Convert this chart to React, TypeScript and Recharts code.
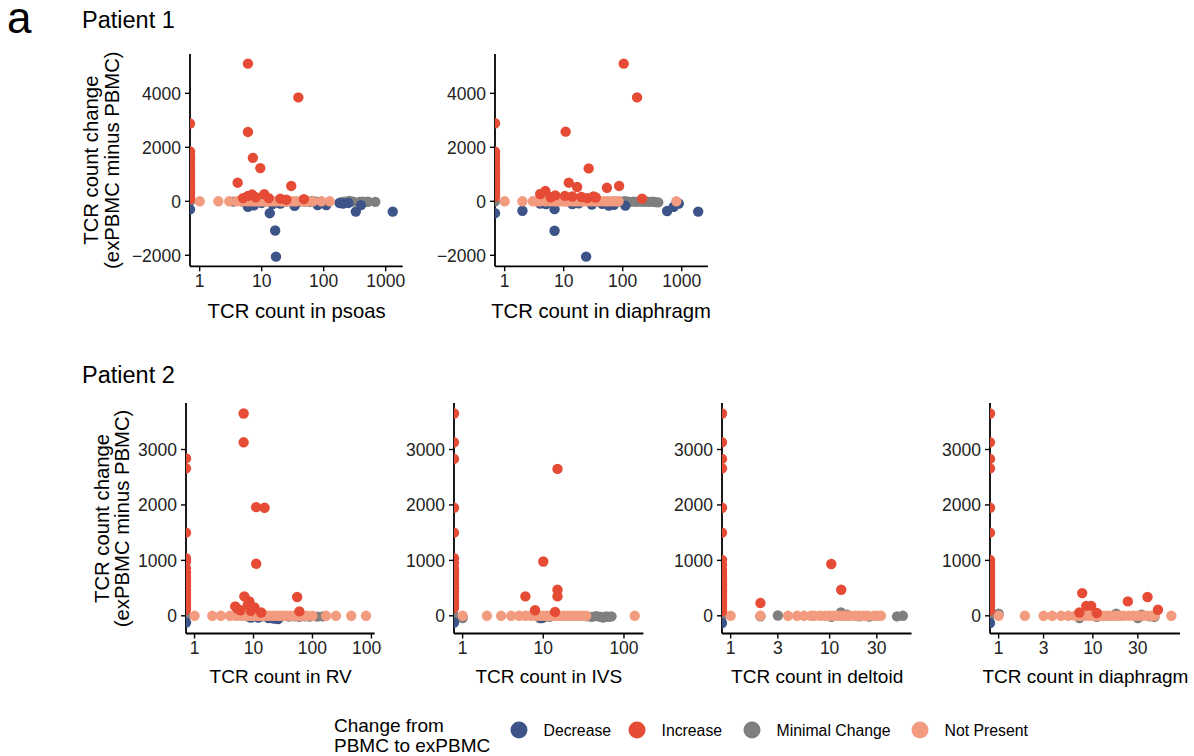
import React from "react";
import { ScatterChart, Scatter, XAxis, YAxis } from "recharts";

const FONT = '"Liberation Sans", Arial, Helvetica, sans-serif';

// ---- categories & colours ----
const categories = ["Decrease", "Increase", "Minimal Change", "Not Present"];
const categoryColors = ["#3C5488", "#E64B35", "#7F7F7F", "#F39B7F"];
// draw order (index into categories)
const drawOrder = [2, 0, 3, 1];

// ---- axis tick values ----
const top_xTicks = [1, 10, 100, 1000];
const top_yTicks = [-2000, 0, 2000, 4000];
const rv_xTicks = [1, 10, 100, 1000];
const ivs_xTicks = [1, 10, 100];
const bottomSmall_xTicks = [1, 3, 10, 30];
const bottom_yTicks = [0, 1000, 2000, 3000];

// x = 0 means "TCR count 0" (drawn at left panel edge like ggplot's -Inf)
// ---- Patient 1: psoas ----
const p1Decrease: number[][] = [[0, -300], [17, -2050], [16.5, -1080], [13.5, -440], [1300, -380], [330, -380], [400, -140], [205, -80], [180, -60], [6, -200], [7.5, -150], [34, -170], [80, -140], [110, -140], [15, -100], [20, -80], [10, -60], [250, -60]];
const p1Increase: number[][] = [[0, 2880], [0, 1850], [0, 1700], [0, 1620], [0, 1550], [0, 1420], [0, 1300], [0, 1180], [0, 1050], [0, 950], [0, 850], [0, 780], [0, 700], [0, 620], [0, 550], [0, 480], [0, 400], [0, 320], [0, 250], [0, 150], [0, 80],
  [6, 5100], [39, 3850], [6, 2570], [7.2, 1610], [9.5, 1230], [4.1, 690], [30, 570], [6, 200], [7, 250], [11, 260], [20, 100], [48, 80], [8, 150], [13, 120], [25, 60], [5, 120]];
const p1Minimal: number[][] = [[0, 0], [3.5, -10], [5, -15], [12, 10], [25, -10], [40, -15], [50, -10], [60, -20], [65, 10], [75, -10], [90, -15], [200, -20], [220, -10], [240, -20], [260, 10], [300, -10], [380, -20], [420, -10], [480, -20], [520, -15], [680, -20]];
const p1NotPresent: number[][] = [1, 2, 3, 4, 5, 6, 7, 8, 9, 10, 11, 12, 13, 15, 17, 20, 22, 25, 28, 32, 36, 45, 55, 67, 92, 125].map((x) => [x, 0]);

// ---- Patient 1: diaphragm ----
const p2Decrease: number[][] = [[0, -440], [24, -2050], [7, -1090], [2, -350], [7, -290], [1900, -380], [565, -360], [730, -200], [890, -80], [111, -160], [58, -160], [71, -130], [4, -80], [5, -100], [14, -100], [30, -120], [45, -90], [18, -70]];
const p2Increase: number[][] = [[0, 2890], [0, 1840], [0, 1750], [0, 1650], [0, 1560], [0, 1470], [0, 1380], [0, 1280], [0, 1190], [0, 1100], [0, 1000], [0, 910], [0, 820], [0, 730], [0, 640], [0, 540], [0, 450], [0, 360], [0, 260], [0, 170],
  [104, 5100], [175, 3850], [10.8, 2580], [26.5, 1220], [12.2, 690], [16.9, 530], [54, 500], [87, 570], [4.9, 380], [4, 270], [7.2, 220], [10.5, 200], [20, 160], [32, 180], [35, 140], [213, 100], [6, 150], [14, 180], [25, 120]];
const p2Minimal: number[][] = [[0, 0], [40, -15], [60, -10], [90, -10], [100, -15], [110, 0], [120, -10], [130, -20], [150, -10], [170, -20], [200, -10], [230, -20], [260, -10], [290, -20], [320, -10], [360, -30], [400, -40]];
const p2NotPresent: number[][] = [1, 2, 3, 3.5, 4, 5, 6, 7, 8, 9, 10, 11, 12, 14, 16, 18, 20, 23, 26, 30, 35, 40, 48, 55, 65, 75, 85, 810].map((x) => [x, 0]);

// ---- Patient 2: RV ----
const p3Decrease: number[][] = [[0, -120], [26, -60], [22, -50], [12, -30], [18, -40], [9, -30]];
const p3Increase: number[][] = [[0, 2840], [0, 2660], [0, 1500], [0, 1040], [0, 980], [0, 860], [0, 780], [0, 710], [0, 650], [0, 590], [0, 530], [0, 470], [0, 410], [0, 350], [0, 290], [0, 230], [0, 170], [0, 110],
  [6.8, 3650], [6.8, 3130], [11.1, 1960], [15.4, 1950], [11.1, 940], [55, 340], [7, 350], [8.5, 260], [4.9, 170], [5.3, 130], [10.4, 150], [60, 80], [13.5, 60], [9, 90], [6, 100], [8, 200]];
const p3Minimal: number[][] = [[0, 0], [8, -10], [9, -20], [10, -5], [12, -15], [14, -10], [17, -20], [20, -10], [25, -20], [30, -10], [40, -15], [50, -10], [60, -20], [75, -10], [90, -15], [121, -15], [150, -10]];
const p3NotPresent: number[][] = [1, 2, 2.8, 4, 5, 6, 7, 8, 9, 10, 11, 12, 13, 15, 17, 19, 22, 25, 28, 32, 36, 42, 50, 58, 68, 80, 100, 170, 250, 455, 810].map((x) => [x, 0]);

// ---- Patient 2: IVS ----
const p4Decrease: number[][] = [[0, -120], [9.5, -40]];
const p4Increase: number[][] = [[0, 3650], [0, 3130], [0, 2830], [0, 1950], [0, 1500], [0, 1040], [0, 950], [0, 860], [0, 800], [0, 740], [0, 680], [0, 620], [0, 560], [0, 500], [0, 440], [0, 380], [0, 320], [0, 260], [0, 200], [0, 140],
  [15, 2650], [10, 980], [15, 470], [15, 350], [6, 350], [7.9, 100], [14, 70]];
const p4Minimal: number[][] = [[0, 0], [1, -40], [9, -40], [10, -30], [12, -20], [35, -10], [40, -20], [45, -5], [50, -15], [55, -30], [60, -10], [65, -20], [70, -10]];
const p4NotPresent: number[][] = [1, 2, 3, 4, 5, 6, 7, 8, 9, 10, 11, 12, 13, 14, 15, 16, 18, 20, 22, 24, 27, 30, 34, 136].map((x) => [x, 0]);

// ---- Patient 2: deltoid ----
const p5Decrease: number[][] = [[0, -130]];
const p5Increase: number[][] = [[0, 3650], [0, 3130], [0, 2830], [0, 2660], [0, 1950], [0, 1500], [0, 1010], [0, 920], [0, 830], [0, 770], [0, 710], [0, 660], [0, 620], [0, 570], [0, 530], [0, 480], [0, 440], [0, 390], [0, 350], [0, 300], [0, 260], [0, 210], [0, 170], [0, 120], [0, 80],
  [10.4, 935], [13.1, 470], [2, 230]];
const p5Minimal: number[][] = [[0, 0], [2, -10], [3, 5], [10.4, -20], [13, 60], [15, 20], [20, -10], [25, -15], [48, -10], [55, 0]];
const p5NotPresent: number[][] = [1, 2, 3.8, 4.7, 5.5, 6.5, 7, 8, 9, 10, 11, 12, 13, 14, 15, 16, 18, 20, 22, 24, 28, 30, 33].map((x) => [x, 0]);

// ---- Patient 2: diaphragm ----
const p6Decrease: number[][] = [[0, -130]];
const p6Increase: number[][] = [[0, 3650], [0, 3130], [0, 2830], [0, 2660], [0, 1950], [0, 1500], [0, 1010], [0, 950], [0, 900], [0, 850], [0, 800], [0, 750], [0, 700], [0, 650], [0, 600], [0, 550], [0, 500], [0, 450], [0, 400], [0, 350], [0, 300], [0, 250], [0, 200], [0, 150], [0, 100],
  [7.7, 410], [8.5, 180], [9.6, 180], [23.5, 260], [38, 340], [49, 110], [7.2, 60], [11, 50]];
const p6Minimal: number[][] = [[0, 0], [1, 40], [7.2, -40], [11, -20], [17.7, 40], [30, -40], [33, 20], [40, -10], [45, -20]];
const p6NotPresent: number[][] = [1, 1.9, 3, 3.7, 4.6, 5.5, 6.5, 7.2, 8, 9, 10, 11, 12, 13, 14, 15, 17, 19, 21, 24, 27, 30, 34, 38, 42, 45, 68].map((x) => [x, 0]);

// ---- titles ----
const panelTitles = ["TCR count in psoas", "TCR count in diaphragm", "TCR count in RV", "TCR count in IVS", "TCR count in deltoid", "TCR count in diaphragm"];
const groupTitles = ["Patient 1", "Patient 2"];
const yTitleLines = ["TCR count change", "(exPBMC minus PBMC)"];
const legendTitleLines = ["Change from", "PBMC to exPBMC"];

// ---- layout (pixels) ----
const TICK_FONT = 17.5;
const DOT_R = 5.2;
const YW = 80;
const MT = 10;
const XH = 40;

type Panel = {
  title: string;
  series: number[][][];
  xTicks: number[];
  xDomain: [number, number];
  yTicks: number[];
  yDomain: [number, number];
  rect: { x0: number; x1: number; y0: number; y1: number };
  mr: number;
  titleY: number;
  titleFont: number;
  yTitle?: { xs: number[] };
};

const panels: Panel[] = [
  { title: panelTitles[0], series: [p1Decrease, p1Increase, p1Minimal, p1NotPresent], xTicks: top_xTicks, xDomain: [0.698, 1880], yTicks: top_yTicks, yDomain: [-2407, 5457], rect: { x0: 190.3, x1: 403, y0: 54, y1: 266.3 }, mr: 10, titleY: 311, titleFont: 20.3, yTitle: { xs: [91, 111.5] } },
  { title: panelTitles[1], series: [p2Decrease, p2Increase, p2Minimal, p2NotPresent], xTicks: top_xTicks, xDomain: [0.686, 2773], yTicks: top_yTicks, yDomain: [-2407, 5457], rect: { x0: 494.6, x1: 707.5, y0: 54, y1: 266.3 }, mr: 10, titleY: 311, titleFont: 20.3 },
  { title: panelTitles[2], series: [p3Decrease, p3Increase, p3Minimal, p3NotPresent], xTicks: rv_xTicks, xDomain: [0.716, 1132], yTicks: bottom_yTicks, yDomain: [-319, 3839], rect: { x0: 186.4, x1: 375, y0: 403.2, y1: 633.7 }, mr: 7, titleY: 676, titleFont: 19, yTitle: { xs: [101.5, 121.5] } },
  { title: panelTitles[3], series: [p4Decrease, p4Increase, p4Minimal, p4NotPresent], xTicks: ivs_xTicks, xDomain: [0.782, 174], yTicks: bottom_yTicks, yDomain: [-319, 3839], rect: { x0: 454.1, x1: 643.5, y0: 403.2, y1: 633.7 }, mr: 10, titleY: 676, titleFont: 19 },
  { title: panelTitles[4], series: [p5Decrease, p5Increase, p5Minimal, p5NotPresent], xTicks: bottomSmall_xTicks, xDomain: [0.818, 67.2], yTicks: bottom_yTicks, yDomain: [-319, 3839], rect: { x0: 722.4, x1: 911.9, y0: 403.2, y1: 633.7 }, mr: 10, titleY: 676, titleFont: 19 },
  { title: panelTitles[5], series: [p6Decrease, p6Increase, p6Minimal, p6NotPresent], xTicks: bottomSmall_xTicks, xDomain: [0.81, 84], yTicks: bottom_yTicks, yDomain: [-319, 3839], rect: { x0: 990.4, x1: 1180.4, y0: 403.2, y1: 633.7 }, mr: 8, titleY: 676, titleFont: 19 },
];

const fmtY = (v: number) => (v < 0 ? "\u2212" + Math.abs(v) : String(v));

function makeDot(color: string) {
  return (p: any) =>
    p && p.cx != null && p.cy != null ? <circle cx={p.cx} cy={p.cy} r={DOT_R} fill={color} /> : <g />;
}

function PanelChart({ panel }: { panel: Panel }) {
  const { rect } = panel;
  const W = rect.x1 - rect.x0 + YW + panel.mr;
  const H = rect.y1 - rect.y0 + MT + XH;
  const L = rect.x0 - YW;
  const T = rect.y0 - MT;
  const tickStyle = { fontSize: TICK_FONT, fill: "#222", fontFamily: FONT };
  return (
    <div style={{ position: "absolute", left: L, top: T, width: W, height: H }}>
      <ScatterChart width={W} height={H} margin={{ top: MT, right: panel.mr, bottom: 0, left: 0 }}>
        <XAxis
          type="number"
          dataKey="x"
          scale="log"
          domain={panel.xDomain}
          allowDataOverflow
          ticks={panel.xTicks}
          interval={0}
          height={XH}
          tickSize={5}
          tickMargin={3}
          tick={tickStyle}
          axisLine={{ stroke: "#000", strokeWidth: 1.8 }}
          tickLine={{ stroke: "#000", strokeWidth: 1.4 }}
        />
        <YAxis
          type="number"
          dataKey="y"
          domain={panel.yDomain}
          allowDataOverflow
          ticks={panel.yTicks}
          interval={0}
          width={YW}
          tickSize={5}
          tickMargin={4}
          tick={tickStyle}
          tickFormatter={fmtY}
          axisLine={{ stroke: "#000", strokeWidth: 1.8 }}
          tickLine={{ stroke: "#000", strokeWidth: 1.4 }}
        />
        {drawOrder.map((ci) => (
          <Scatter
            key={categories[ci]}
            name={categories[ci]}
            data={panel.series[ci].map(([x, y]) => ({ x: x === 0 ? panel.xDomain[0] : x, y }))}
            fill={categoryColors[ci]}
            shape={makeDot(categoryColors[ci])}
            isAnimationActive={false}
          />
        ))}
      </ScatterChart>
    </div>
  );
}

const legendDotX = [519, 637, 752, 920];
const LEGEND_Y = 730;

export default function App() {
  return (
    <div style={{ position: "absolute", left: 0, top: 0, width: 1194, height: 756, background: "#fff", fontFamily: FONT }}>
      <svg width={1194} height={756} style={{ position: "absolute", left: 0, top: 0 }}>
        <text x={7} y={33} fontSize={44} fontFamily={FONT} fill="#000">a</text>
        <text x={82} y={20} fontSize={23.5} fontFamily={FONT} dominantBaseline="central" fill="#000">{groupTitles[0]}</text>
        <text x={82} y={375} fontSize={23.5} fontFamily={FONT} dominantBaseline="central" fill="#000">{groupTitles[1]}</text>
        {panels.map((p, i) => (
          <g key={i}>
            <text x={(p.rect.x0 + p.rect.x1) / 2} y={p.titleY} fontSize={p.titleFont} fontFamily={FONT} textAnchor="middle" dominantBaseline="central" fill="#000">
              {p.title}
            </text>
            {p.yTitle &&
              yTitleLines.map((line, j) => (
                <text
                  key={j}
                  transform={`translate(${p.yTitle!.xs[j]},${(p.rect.y0 + p.rect.y1) / 2}) rotate(-90)`}
                  fontSize={20.3}
                  fontFamily={FONT}
                  textAnchor="middle"
                  dominantBaseline="central"
                  fill="#000"
                >
                  {line}
                </text>
              ))}
          </g>
        ))}
        {legendTitleLines.map((line, j) => (
          <text key={j} x={334} y={725 + j * 20} fontSize={19} fontFamily={FONT} dominantBaseline="central" fill="#000">
            {line}
          </text>
        ))}
        {categories.map((c, i) => (
          <g key={c}>
            <circle cx={legendDotX[i]} cy={LEGEND_Y} r={8.5} fill={categoryColors[i]} />
            <text x={legendDotX[i] + 24.5} y={LEGEND_Y} fontSize={15.8} fontFamily={FONT} dominantBaseline="central" fill="#000">
              {c}
            </text>
          </g>
        ))}
      </svg>
      {panels.map((p, i) => (
        <PanelChart key={i} panel={p} />
      ))}
    </div>
  );
}
